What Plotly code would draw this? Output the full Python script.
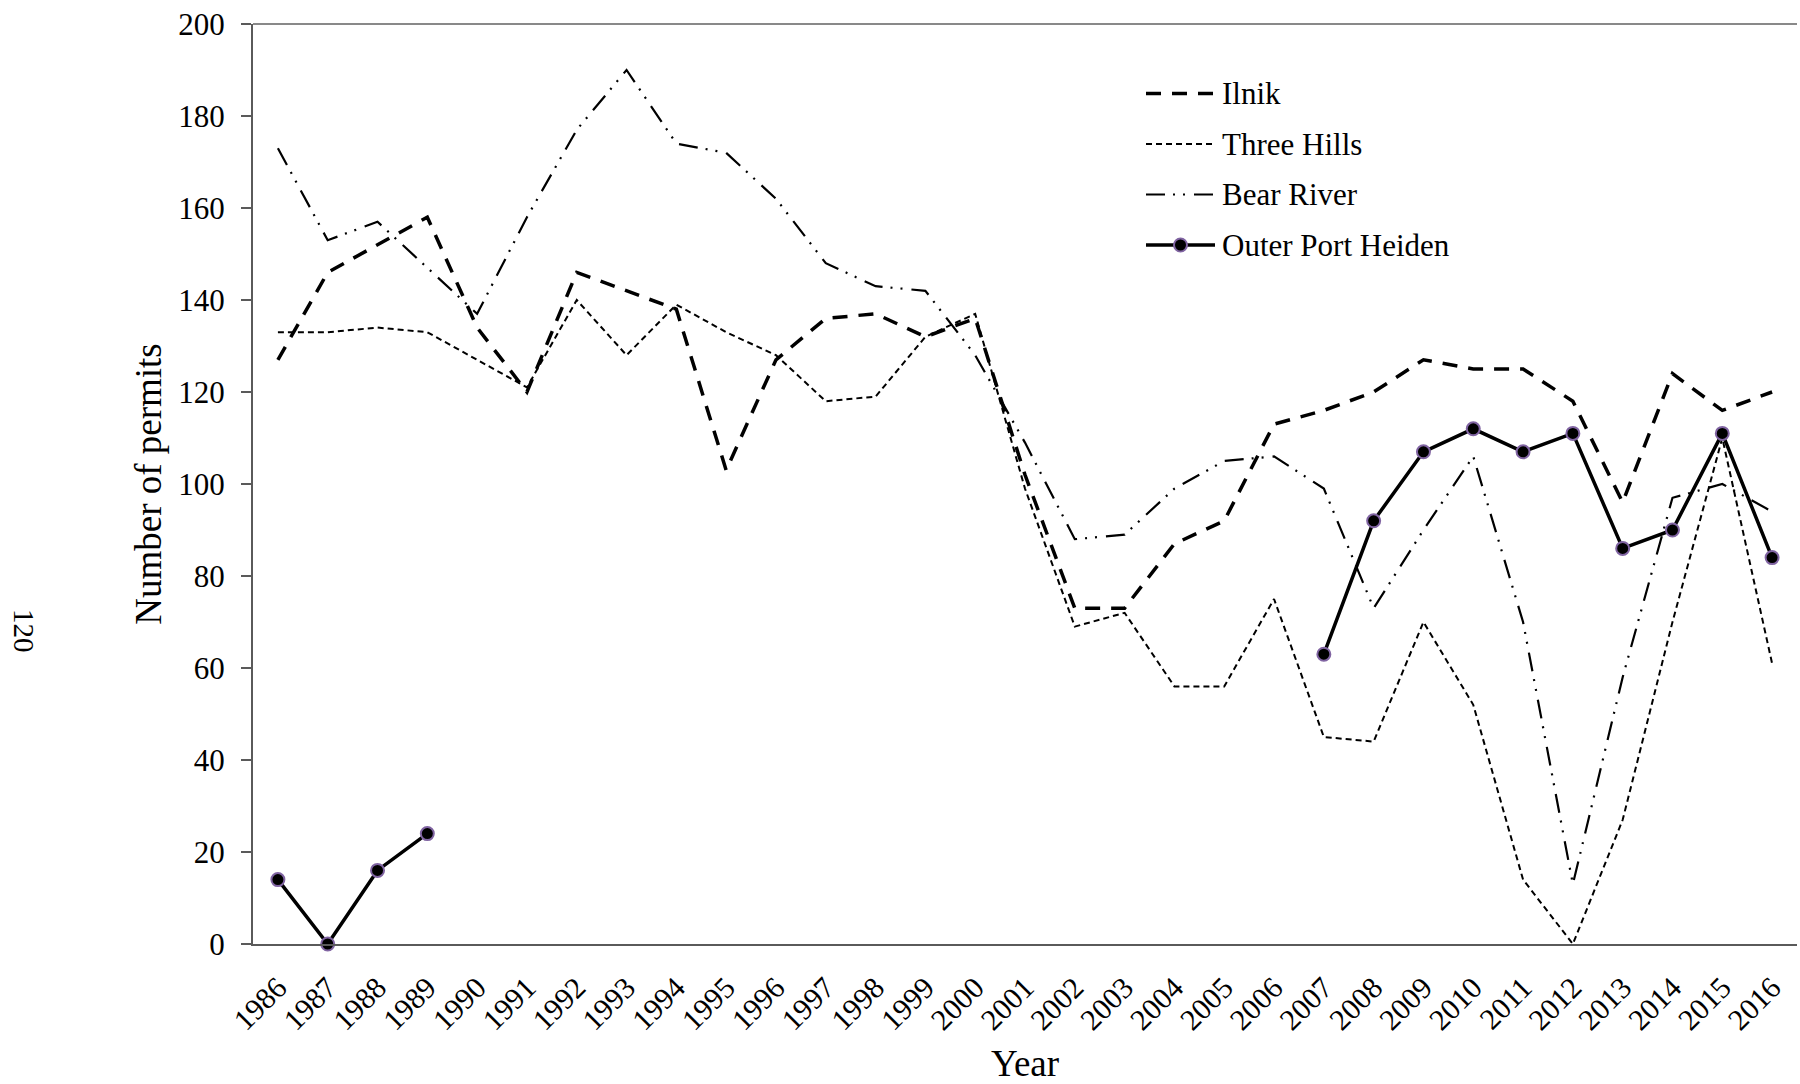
import plotly.graph_objects as go

# ---------------- data ----------------
years = ["1986", "1987", "1988", "1989", "1990", "1991", "1992", "1993", "1994", "1995",
         "1996", "1997", "1998", "1999", "2000", "2001", "2002", "2003", "2004", "2005",
         "2006", "2007", "2008", "2009", "2010", "2011", "2012", "2013", "2014", "2015", "2016"]

ilnik = [127, 146, 152, 158, 134, 120, 146, 142, 138, 103,
         127, 136, 137, 132, 136, 102, 73, 73, 87, 92,
         113, 116, 120, 127, 125, 125, 118, 96, 124, 116, 120]

three_hills = [133, 133, 134, 133, 127, 121, 140, 128, 139, 133,
               128, 118, 119, 132, 137, 99, 69, 72, 56, 56,
               75, 45, 44, 70, 52, 14, 0, 27, 70, 110, 61]

bear_river = [173, 153, 157, 147, 137, 158, 177, 190, 174, 172,
              162, 148, 143, 142, 128, 109, 88, 89, 99, 105,
              106, 99, 73, 90, 106, 70, 13, 58, 97, 100, 94]

outer_port_heiden = [14, 0, 16, 24, None, None, None, None, None, None,
                     None, None, None, None, None, None, None, None, None, None,
                     None, 63, 92, 107, 112, 107, 111, 86, 90, 111, 84]

series_names = ["Ilnik", "Three Hills", "Bear River", "Outer Port Heiden"]
y_ticks = [0, 20, 40, 60, 80, 100, 120, 140, 160, 180, 200]

# ---------------- styles ----------------
FONT = "Liberation Serif, Times New Roman, serif"
PURPLE = "#8064A2"
styles = {
    "Ilnik": dict(color="black", width=3.5, dash="15px,11px"),
    "Three Hills": dict(color="black", width=2, dash="6px,4px"),
    "Bear River": dict(color="black", width=2.2, dash="19px,8px,2px,8px,2px,9px"),
    "Outer Port Heiden": dict(color="black", width=3.5),
}

W, H = 1800, 1084
L, R, T, B = 253, 3, 24, 140
PW, PH = W - L - R, H - T - B


def px_x(px):
    return (px - L) / PW


def px_y(py):
    return (H - B - py) / PH


fig = go.Figure()
for name, vals in zip(series_names, [ilnik, three_hills, bear_river, outer_port_heiden]):
    if name == "Outer Port Heiden":
        fig.add_trace(go.Scatter(
            x=years, y=vals, name=name, mode="lines+markers",
            line=styles[name], connectgaps=False, cliponaxis=False,
            marker=dict(size=13, color="black", line=dict(color=PURPLE, width=2)),
            showlegend=False))
    else:
        fig.add_trace(go.Scatter(
            x=years, y=vals, name=name, mode="lines",
            line=styles[name], cliponaxis=False, showlegend=False))

# ---------------- manual legend ----------------
shapes = []
annotations = []
row_y = [93.5, 144, 194.5, 245]
lx0, lx1, tx = 1146, 1215, 1220
for name, ry in zip(series_names, row_y):
    shapes.append(dict(type="line", xref="paper", yref="paper",
                       x0=px_x(lx0), x1=px_x(lx1), y0=px_y(ry), y1=px_y(ry),
                       line=styles[name]))
    annotations.append(dict(text=name, xref="paper", yref="paper",
                            x=px_x(tx), y=px_y(ry), xanchor="left", yanchor="middle",
                            showarrow=False, font=dict(family=FONT, size=31, color="black")))
shapes.append(dict(type="circle", xref="paper", yref="paper",
                   xsizemode="pixel", ysizemode="pixel",
                   xanchor=px_x((lx0 + lx1) / 2), yanchor=px_y(row_y[3]),
                   x0=-6.5, x1=6.5, y0=-6.5, y1=6.5,
                   fillcolor="black", line=dict(color=PURPLE, width=2)))

# top border of plot area
shapes.append(dict(type="line", xref="paper", yref="paper", x0=0, x1=1, y0=1, y1=1,
                   line=dict(color="#898989", width=2)))

# page number at left margin
annotations.append(dict(text="120", xref="paper", yref="paper",
                        x=px_x(24), y=px_y(631), xanchor="center", yanchor="middle",
                        textangle=90, showarrow=False,
                        font=dict(family=FONT, size=29, color="black")))

fig.update_layout(
    width=W, height=H,
    margin=dict(l=L, r=R, t=T, b=B, pad=0),
    paper_bgcolor="white", plot_bgcolor="white",
    font=dict(family=FONT, color="black"),
    shapes=shapes, annotations=annotations,
    showlegend=False,
    xaxis=dict(
        type="category", range=[-0.5, 30.5],
        showgrid=False, zeroline=False,
        showline=True, linecolor="#5a5a5a", linewidth=2,
        ticks="", tickangle=-45, ticklabelstandoff=12,
        tickfont=dict(family=FONT, size=30, color="black"),
        title=dict(text="Year", font=dict(family=FONT, size=37, color="black"), standoff=16),
        automargin=False,
    ),
    yaxis=dict(
        range=[0, 200], tickvals=y_ticks,
        showgrid=False, zeroline=False,
        showline=True, linecolor="#5a5a5a", linewidth=2,
        ticks="outside", ticklen=10, tickcolor="#5a5a5a", tickwidth=1.5,
        ticklabelstandoff=10,
        tickfont=dict(family=FONT, size=31, color="black"),
        title=dict(text="Number of permits", font=dict(family=FONT, size=37, color="black"), standoff=5),
        automargin=False,
    ),
)

fig.write_html("out.html", config={"displayModeBar": False},
               post_script="document.body.style.margin='0';")
